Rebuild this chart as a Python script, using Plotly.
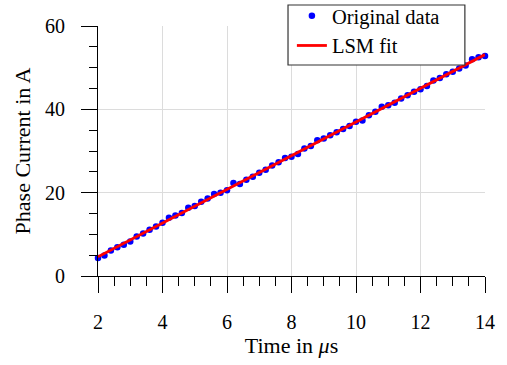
import numpy as np
import plotly.graph_objects as go

# Time samples in microseconds
time_us = [2.0, 2.2, 2.4, 2.6, 2.8, 3.0, 3.2, 3.4, 3.6, 3.8,
           4.0, 4.2, 4.4, 4.6, 4.8, 5.0, 5.2, 5.4, 5.6, 5.8,
           6.0, 6.2, 6.4, 6.6, 6.8, 7.0, 7.2, 7.4, 7.6, 7.8,
           8.0, 8.2, 8.4, 8.6, 8.8, 9.0, 9.2, 9.4, 9.6, 9.8,
           10.0, 10.2, 10.4, 10.6, 10.8, 11.0, 11.2, 11.4, 11.6, 11.8,
           12.0, 12.2, 12.4, 12.6, 12.8, 13.0, 13.2, 13.4, 13.6, 13.8,
           14.0]
# Measured phase current in A
current_a = [4.3, 4.9, 6.1, 6.9, 7.5, 8.3, 9.5, 10.2, 11.1, 11.9,
             12.8, 14.0, 14.5, 15.1, 16.4, 16.8, 17.8, 18.6, 19.7, 20.0,
             20.6, 22.3, 22.1, 23.1, 23.8, 24.8, 25.5, 26.5, 27.3, 28.3,
             28.6, 29.3, 30.6, 31.2, 32.6, 33.0, 33.8, 34.5, 35.3, 36.0,
             37.0, 37.3, 38.6, 39.4, 40.6, 41.0, 41.6, 42.6, 43.4, 44.2,
             44.8, 45.6, 46.9, 47.5, 48.4, 49.0, 49.8, 50.5, 52.0, 52.5,
             52.8]

x_ticks = [2, 4, 6, 8, 10, 12, 14]
y_ticks = [0, 20, 40, 60]

# Least-squares fit
coef = np.polyfit(time_us, current_a, 1)
fit_x = np.array([min(time_us), max(time_us)])
fit_y = np.polyval(coef, fit_x)

FONT = "Liberation Serif"

fig = go.Figure()
fig.add_trace(go.Scatter(
    x=time_us, y=current_a, mode="markers", name="Original data",
    marker=dict(color="#0000ff", size=6.5, line=dict(width=0)),
    cliponaxis=False,
))
fig.add_trace(go.Scatter(
    x=fit_x, y=fit_y, mode="lines", name="LSM fit",
    line=dict(color="#ff0000", width=2.8),
    cliponaxis=False,
))

axis_common = dict(
    showline=True, linecolor="black", linewidth=1.2,
    ticks="outside", ticklen=16, tickwidth=1.2, tickcolor="black",
    showgrid=True, gridcolor="#dcdcdc", gridwidth=1.2,
    zeroline=False, mirror=False, automargin=False,
    tickfont=dict(family=FONT, size=20, color="black"),
)

# legend frame (drawn as a shape so its size matches the original)
fig.add_shape(
    type="rect", xref="paper", yref="paper",
    x0=0.491, x1=0.948, y0=0.844, y1=1.084,
    line=dict(color="#333333", width=1.2), fillcolor="white", layer="above",
)

fig.update_layout(
    width=507, height=365,
    margin=dict(l=98, r=22, t=26, b=89, autoexpand=False),
    paper_bgcolor="white", plot_bgcolor="white",
    font=dict(family=FONT, color="black"),
    showlegend=True,
    legend=dict(
        x=0.501, y=1.12, xanchor="left", yanchor="top",
        bgcolor="rgba(0,0,0,0)", borderwidth=0,
        font=dict(family=FONT, size=20.5, color="black"),
        itemwidth=30, tracegroupgap=0,
    ),
    xaxis=dict(
        range=[2, 14], tickvals=x_ticks, ticktext=[str(v) for v in x_ticks],
        title=dict(text="Time in <i>μ</i>s", font=dict(family=FONT, size=22), standoff=4),
        ticklabelstandoff=12,
        minor=dict(dtick=0.5, tick0=2, ticks="outside", ticklen=9, tickwidth=1.2,
                   tickcolor="black", showgrid=False),
        **axis_common,
    ),
    yaxis=dict(
        range=[0, 60], tickvals=y_ticks, ticktext=[str(v) for v in y_ticks],
        title=dict(text="Phase Current in A", font=dict(family=FONT, size=22), standoff=8),
        ticklabelstandoff=12,
        minor=dict(dtick=5, tick0=0, ticks="outside", ticklen=8, tickwidth=1.2,
                   tickcolor="black", showgrid=False),
        **axis_common,
    ),
)

fig.write_html("out.html")
